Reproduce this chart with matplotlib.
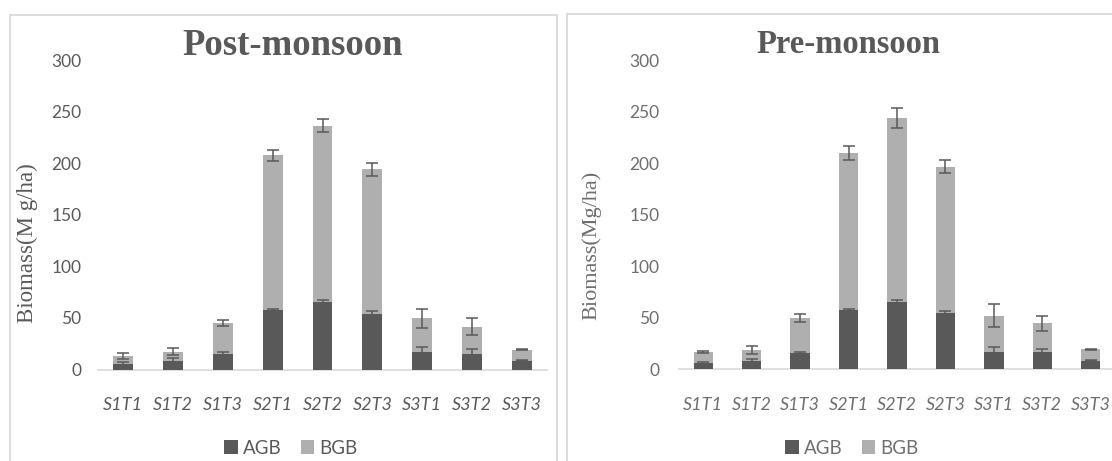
import numpy as np
import matplotlib
matplotlib.use("Agg")
import matplotlib.pyplot as plt
from matplotlib.patches import Patch, Rectangle

# ---- data ----
sites = ["S1T1", "S1T2", "S1T3", "S2T1", "S2T2", "S2T3", "S3T1", "S3T2", "S3T3"]

post_agb = [5.3, 8.2, 15, 57.5, 65, 53.5, 17, 15, 8.5]
post_bgb = [8, 9, 30, 150, 171.5, 140.5, 32.5, 26.5, 10.5]
post_agb_err = [1.5, 2.5, 1.5, 1.5, 2.5, 3, 5, 4.5, 0.5]
post_bgb_err = [3, 3.3, 3, 5.5, 6.5, 6.5, 9.5, 8.5, 0.5]

pre_agb = [5.8, 8, 15.5, 57.6, 65.7, 54.4, 17, 17, 8.5]
pre_bgb = [11.2, 10.8, 34.5, 152.4, 178.3, 142.6, 35, 27.6, 10.9]
pre_agb_err = [1, 2, 1.5, 1, 1.5, 2, 5, 2.7, 0.5]
pre_bgb_err = [1, 4, 4, 7, 10, 6, 11, 7, 0.5]

W, H = 1112, 461
AGB_COL = "#595959"
BGB_COL = "#afafaf"
GRID = "#d9d9d9"

fig = plt.figure(figsize=(W / 100, H / 100), dpi=100)


def px_axes(x0, x1, ytop, ybot):
    return fig.add_axes([x0 / W, 1 - ybot / H, (x1 - x0) / W, (ybot - ytop) / H])


def draw_panel(ax, agb, bgb, agb_err, bgb_err, txt_col, ypad):
    x = np.arange(len(sites))
    agb = np.array(agb)
    bgb = np.array(bgb)
    ax.bar(x, agb, width=0.4, color=AGB_COL, zorder=2)
    ax.bar(x, bgb, width=0.4, bottom=agb, color=BGB_COL, zorder=2)
    ax.errorbar(x, agb, yerr=agb_err, fmt="none", ecolor=AGB_COL,
                elinewidth=1.1, capsize=4.3, capthick=1.1, zorder=3)
    ax.errorbar(x, agb + bgb, yerr=bgb_err, fmt="none", ecolor=AGB_COL,
                elinewidth=1.1, capsize=4.3, capthick=1.1, zorder=3)
    ax.set_xlim(-0.5, len(sites) - 0.5)
    ax.set_ylim(0, 300)
    ax.set_yticks(range(0, 301, 50))
    ax.set_xticks(x)
    ax.set_xticklabels(sites, fontstyle="italic")
    for s in ["top", "left", "right"]:
        ax.spines[s].set_visible(False)
    ax.spines["bottom"].set_color(GRID)
    ax.spines["bottom"].set_linewidth(1.2)
    ax.spines["bottom"].set_zorder(1)
    ax.tick_params(axis="both", length=0, labelcolor=txt_col)
    ax.tick_params(axis="y", pad=ypad, labelsize=12.5)
    ax.tick_params(axis="x", pad=20, labelsize=13)
    for lab in ax.get_xticklabels() + ax.get_yticklabels():
        lab.set_family("Lato")
    ax.patch.set_alpha(0)


ax1 = px_axes(98, 547, 60, 369.5)
draw_panel(ax1, post_agb, post_bgb, post_agb_err, post_bgb_err, "#595959", 12)

ax2 = px_axes(679, 1115, 60.5, 369.3)
draw_panel(ax2, pre_agb, pre_bgb, pre_agb_err, pre_bgb_err, "#6e6e6e", 14)

# chart-area borders (Excel style boxes)
fig.patches.append(Rectangle((9.5 / W, -0.1), (557.5 - 9.5) / W, 1.1 - 15 / H,
                             transform=fig.transFigure, fill=False,
                             edgecolor=GRID, linewidth=1.3))
fig.patches.append(Rectangle((566.5 / W, -0.1), 0.6, 1.1 - 14 / H,
                             transform=fig.transFigure, fill=False,
                             edgecolor=GRID, linewidth=1.3))

# titles
fig.text(293 / W, 1 - 55 / H, "Post-monsoon", ha="center", va="baseline",
         fontsize=26.5, fontweight="bold", family="Liberation Serif", color="#595959")
fig.text(848 / W, 1 - 52.7 / H, "Pre-monsoon", ha="center", va="baseline",
         fontsize=23.5, fontweight="bold", family="Liberation Serif", color="#595959")

# y labels
fig.text(27 / W, 1 - 243.5 / H, "Biomass(M g/ha)", rotation=90, ha="center",
         va="center", fontsize=16.5, family="Liberation Serif", color="#595959")
fig.text(592 / W, 1 - 245 / H, "Biomass(Mg/ha)", rotation=90, ha="center",
         va="center", fontsize=16, family="Liberation Serif", color="#6e6e6e")

# legends
handles = [Patch(facecolor=AGB_COL, label="AGB"), Patch(facecolor=BGB_COL, label="BGB")]
for cx, col in [(291, "#595959"), (852, "#6e6e6e")]:
    leg = fig.legend(handles=handles, loc="center", bbox_to_anchor=(cx / W, 1 - 448 / H),
                     ncol=2, frameon=False, handlelength=0.7, handleheight=0.7,
                     handletextpad=0.3, columnspacing=1.0,
                     prop={"family": "Lato", "size": 13.5})
    for t in leg.get_texts():
        t.set_color(col)

fig.savefig("out.png", dpi=100)
